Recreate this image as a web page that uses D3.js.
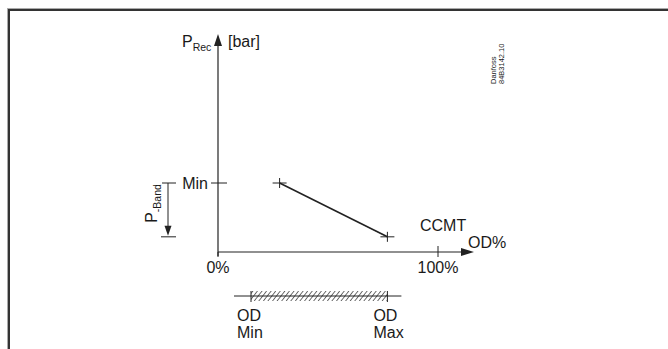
<!DOCTYPE html>
<html lang="en">
<head>
    <title>CCMT opening degree vs receiver pressure</title>
    <script src="https://d3js.org/d3.v7.min.js"></script>
    <style>
        body { margin: 0; background: #fff; }
        text { font-family: "Liberation Sans", Arial, sans-serif; fill: #1a1a1a; }
    </style>
</head>
<body>
    <script>
        // data
        var odPoints = [28, 77];          // OD% at the two ends of the CCMT line
        var pPoints = [1.0, 0.22];        // P_Rec at the two ends (Min, Min - P_Band)
        var pMin = 1.0;
        var pBand = 0.78;
        var odRange = [15, 77];           // OD Min .. OD Max
        var xTicks = [0, 100];
        var xTickLabels = ["0%", "100%"];

        var width = 668, height = 349;
        var ink = "#222";
        var fs = 16;

        var svg = d3.select("body").append("svg")
            .attr("width", width)
            .attr("height", height);

        // frame (runs off the right and bottom edge)
        svg.append("rect")
            .attr("x", 7.5).attr("y", 8.5)
            .attr("width", 700).attr("height", 400)
            .attr("fill", "none").attr("stroke", "#aaa").attr("stroke-width", 1);
        svg.append("rect")
            .attr("x", 9).attr("y", 10)
            .attr("width", 700).attr("height", 400)
            .attr("fill", "none").attr("stroke", "#333").attr("stroke-width", 2);

        // scales
        var x = d3.scaleLinear().domain([0, 100]).range([218, 438]);
        var y = d3.scaleLinear().domain([0, 3.16]).range([252, 34]);

        var g = svg.append("g");

        // y axis
        g.append("line")
            .attr("x1", x(0)).attr("x2", x(0))
            .attr("y1", y(0) + 4).attr("y2", y(3.16) + 8)
            .attr("stroke", ink).attr("stroke-width", 1.2);
        g.append("path")
            .attr("d", "M" + x(0) + "," + y(3.16) + "l-4,12h8z")
            .attr("fill", ink);

        // x axis
        g.append("line")
            .attr("x1", x(0)).attr("x2", 464)
            .attr("y1", y(0)).attr("y2", y(0))
            .attr("stroke", ink).attr("stroke-width", 1.2);
        g.append("path")
            .attr("d", "M474," + y(0) + "l-13,-4v8z")
            .attr("fill", ink);

        // x ticks
        g.selectAll(".xtick").data(xTicks).enter().append("line")
            .attr("class", "xtick")
            .attr("x1", function(d) { return x(d); })
            .attr("x2", function(d) { return x(d); })
            .attr("y1", function(d) { return d == 0 ? y(0) : y(0) - 6; })
            .attr("y2", y(0) + 5)
            .attr("stroke", ink);
        g.selectAll(".xlab").data(xTicks).enter().append("text")
            .attr("class", "xlab")
            .attr("x", function(d) { return x(d); })
            .attr("y", 273)
            .attr("text-anchor", "middle")
            .attr("font-size", fs)
            .text(function(d, i) { return xTickLabels[i]; });

        // axis titles
        var py = g.append("text").attr("x", 182).attr("y", 47).attr("font-size", fs);
        py.append("tspan").text("P");
        py.append("tspan").attr("font-size", 10.5).attr("dy", 4).text("Rec");
        g.append("text").attr("x", 228).attr("y", 47).attr("font-size", fs).text("[bar]");
        g.append("text").attr("x", 420).attr("y", 231).attr("font-size", fs).text("CCMT");
        g.append("text").attr("x", 468).attr("y", 248).attr("font-size", fs).text("OD%");

        // Min marker on y axis
        g.append("line")
            .attr("x1", x(0) - 7).attr("x2", x(0) + 9)
            .attr("y1", y(pMin)).attr("y2", y(pMin))
            .attr("stroke", ink);
        g.append("text")
            .attr("x", x(0) - 10).attr("y", y(pMin) + 5.5)
            .attr("text-anchor", "end").attr("font-size", fs)
            .text("Min");

        // P-Band dimension arrow
        var bx = 168;
        g.append("line")
            .attr("x1", bx - 6).attr("x2", bx + 8)
            .attr("y1", y(pMin)).attr("y2", y(pMin))
            .attr("stroke", ink);
        g.append("line")
            .attr("x1", bx - 7).attr("x2", bx + 8)
            .attr("y1", y(pMin - pBand)).attr("y2", y(pMin - pBand))
            .attr("stroke", ink);
        g.append("line")
            .attr("x1", bx).attr("x2", bx)
            .attr("y1", y(pMin)).attr("y2", y(pMin - pBand) - 8)
            .attr("stroke", ink);
        g.append("path")
            .attr("d", "M" + bx + "," + (y(pMin - pBand) - 1) + "l-3.5,-10h7z")
            .attr("fill", ink);
        var pb = g.append("text")
            .attr("transform", "translate(157," + (y(pMin - pBand) - 14) + ") rotate(-90)")
            .attr("font-size", fs);
        pb.append("tspan").text("P");
        pb.append("tspan").attr("font-size", 10.5).attr("dy", 4).text("-Band");

        // CCMT line with cross markers
        var pts = odPoints.map(function(d, i) { return [x(d), y(pPoints[i])]; });
        g.append("path")
            .attr("d", d3.line()(pts))
            .attr("fill", "none").attr("stroke", ink).attr("stroke-width", 1.6);
        g.selectAll(".cross").data(pts).enter().append("path")
            .attr("class", "cross")
            .attr("d", function(d) {
                return "M" + (d[0] - 7) + "," + d[1] + "h14M" + d[0] + "," + (d[1] - 5) + "v10";
            })
            .attr("stroke", ink).attr("fill", "none");

        // Danfoss reference
        var df = g.append("text")
            .attr("transform", "translate(496,84) rotate(-90)")
            .attr("font-size", 7.5);
        df.append("tspan").attr("x", 0).attr("dy", 0).text("Danfoss");
        df.append("tspan").attr("x", 0).attr("dy", 7.5).text("84B3142.10");

        // OD range bar
        var defs = svg.append("defs");
        defs.append("pattern")
            .attr("id", "hatch")
            .attr("patternUnits", "userSpaceOnUse")
            .attr("width", 3.6).attr("height", 4)
            .attr("patternTransform", "rotate(38)")
            .append("line")
            .attr("x1", 0).attr("y1", 0).attr("x2", 0).attr("y2", 4)
            .attr("stroke", "#222").attr("stroke-width", 1.3);

        var barY = 296;
        g.append("rect")
            .attr("x", x(odRange[0])).attr("y", barY - 5)
            .attr("width", x(odRange[1]) - x(odRange[0]))
            .attr("height", 10)
            .attr("fill", "url(#hatch)");
        g.append("line")
            .attr("x1", x(odRange[0]) - 17).attr("x2", x(odRange[1]) + 14)
            .attr("y1", barY).attr("y2", barY)
            .attr("stroke", ink);
        g.selectAll(".odtick").data(odRange).enter().append("line")
            .attr("class", "odtick")
            .attr("x1", function(d) { return x(d); })
            .attr("x2", function(d) { return x(d); })
            .attr("y1", barY - 5).attr("y2", barY + 6)
            .attr("stroke", ink);

        var odLabels = [["OD", "Min"], ["OD", "Max"]];
        var odLab = g.selectAll(".odlab").data(odRange).enter().append("text")
            .attr("class", "odlab")
            .attr("font-size", fs)
            .attr("transform", function(d) { return "translate(" + (x(d) - 14) + ",321)"; });
        odLab.append("tspan").attr("x", 0).text(function(d, i) { return odLabels[i][0]; });
        odLab.append("tspan").attr("x", 0).attr("dy", 17).text(function(d, i) { return odLabels[i][1]; });
    </script>
</body>
</html>
